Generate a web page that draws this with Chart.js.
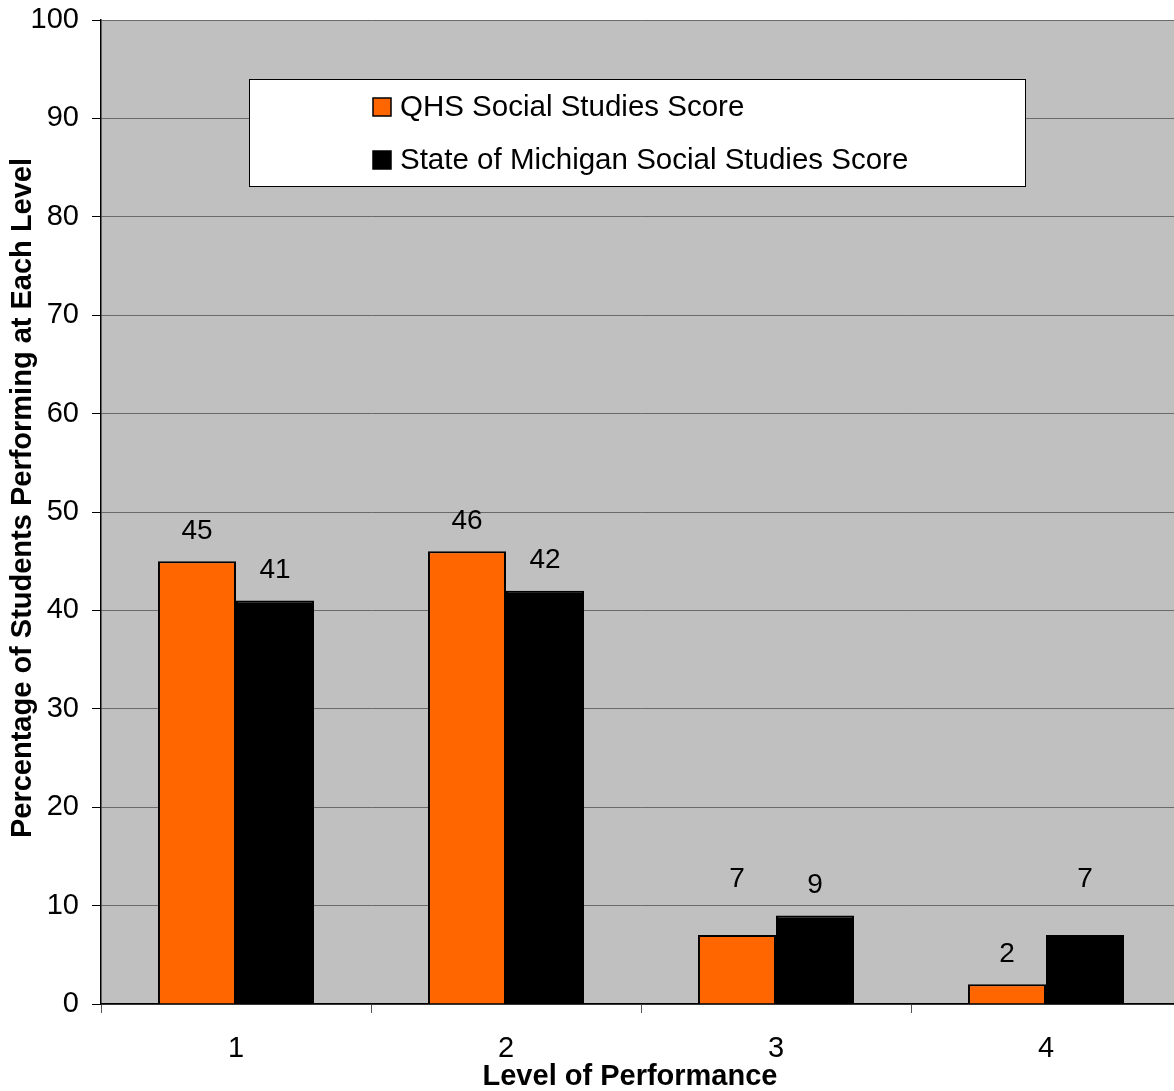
<!DOCTYPE html>
<html>
<head>
<meta charset="utf-8">
<script src="https://cdn.jsdelivr.net/npm/chart.js@4.4.0/dist/chart.umd.min.js"></script>
<style>
  html, body { margin: 0; padding: 0; background: #ffffff; }
  #wrap { width: 1174px; height: 1091px; position: relative; overflow: hidden; }
  #c { position: absolute; left: 0; top: 0; }
</style>
</head>
<body>
<div id="wrap"><canvas id="c" width="1181" height="1091"></canvas></div>
<script>
const categories = ['1', '2', '3', '4'];
const qhsScores = [45, 46, 7, 2];
const michiganScores = [41, 42, 9, 7];
const seriesNames = ['QHS Social Studies Score', 'State of Michigan Social Studies Score'];
const yTicks = [0, 10, 20, 30, 40, 50, 60, 70, 80, 90, 100];
const xTitle = 'Level of Performance';
const yTitle = 'Percentage of Students Performing at Each Level';

const FONT = "'Liberation Sans', Arial, sans-serif";

const bgPlugin = {
  id: 'plotBg',
  beforeDraw(chart) {
    const { ctx, chartArea: a } = chart;
    ctx.save();
    ctx.fillStyle = '#C0C0C0';
    ctx.fillRect(a.left, a.top, a.right - a.left, a.bottom - a.top);
    ctx.restore();
  }
};

// extra lift (px) for individual value labels that were moved up in the original
const labelLift = [[0, 0, 26, 0], [0, 0, 0, 26]];

const labelPlugin = {
  id: 'valueLabels',
  afterDatasetsDraw(chart) {
    const { ctx } = chart;
    ctx.save();
    ctx.font = '28px ' + FONT;
    ctx.fillStyle = '#000';
    ctx.textAlign = 'center';
    ctx.textBaseline = 'middle';
    chart.data.datasets.forEach((ds, i) => {
      const meta = chart.getDatasetMeta(i);
      meta.data.forEach((bar, j) => {
        ctx.fillText(String(ds.data[j]), bar.x, bar.y - 30 - labelLift[i][j]);
      });
    });
    ctx.restore();
  }
};

const titlePlugin = {
  id: 'axisTitles',
  afterDraw(chart) {
    const { ctx, chartArea: a } = chart;
    ctx.save();
    ctx.fillStyle = '#000';
    ctx.font = 'bold 29px ' + FONT;
    ctx.textAlign = 'center';
    ctx.textBaseline = 'alphabetic';
    ctx.fillText(xTitle, (a.left + a.right) / 2 - 11, a.bottom + 81);
    ctx.translate(a.left - 70, (a.top + a.bottom) / 2 - 14);
    ctx.rotate(-Math.PI / 2);
    ctx.fillText(yTitle, 0, 0);
    ctx.restore();
  }
};

const legendPlugin = {
  id: 'boxLegend',
  afterDraw(chart) {
    const { ctx, chartArea: a } = chart;
    const x0 = a.left + 148, y0 = a.top + 59, w = 776, h = 107;
    ctx.save();
    ctx.fillStyle = '#ffffff';
    ctx.fillRect(x0, y0, w, h);
    ctx.strokeStyle = '#000';
    ctx.lineWidth = 1;
    ctx.strokeRect(x0 + 0.5, y0 + 0.5, w, h);
    ctx.font = '29.5px ' + FONT;
    ctx.textBaseline = 'middle';
    ctx.textAlign = 'left';
    chart.data.datasets.forEach((ds, i) => {
      const cy = y0 + 28 + i * 53;
      ctx.fillStyle = ds.backgroundColor;
      ctx.fillRect(x0 + 124, cy - 9, 18, 18);
      ctx.strokeStyle = '#000';
      ctx.lineWidth = 1.5;
      ctx.strokeRect(x0 + 124, cy - 9, 18, 18);
      ctx.fillStyle = '#000';
      ctx.fillText(ds.label, x0 + 151, cy + 1);
    });
    ctx.restore();
  }
};

new Chart(document.getElementById('c'), {
  type: 'bar',
  data: {
    labels: categories,
    datasets: [
      { label: seriesNames[0], data: qhsScores, backgroundColor: '#FF6600', borderColor: '#000', borderWidth: 2 },
      { label: seriesNames[1], data: michiganScores, backgroundColor: '#000000', borderColor: '#000', borderWidth: 2 }
    ]
  },
  options: {
    responsive: false,
    animation: false,
    devicePixelRatio: 1,
    layout: { padding: { top: 20, right: 0, left: 0, bottom: 0 } },
    datasets: { bar: { categoryPercentage: 0.578, barPercentage: 1.0 } },
    plugins: { legend: { display: false }, tooltip: { enabled: false } },
    scales: {
      x: {
        grid: { offset: true, drawOnChartArea: false, tickLength: 9, color: '#555', tickColor: '#555' },
        border: { color: '#000', width: 1.5 },
        ticks: { color: '#000', font: { family: FONT, size: 29 }, padding: 19 },
        title: { display: false },
        afterFit(s) { s.height = 87; s.paddingLeft = 0; s.paddingRight = 0; }
      },
      y: {
        min: 0, max: 100,
        afterBuildTicks(s) { s.ticks = yTicks.map(v => ({ value: v })); },
        grid: { color: '#6a6a6a', tickLength: 9, tickColor: '#000', lineWidth: 1 },
        border: { color: '#000', width: 1.5 },
        ticks: { color: '#000', font: { family: FONT, size: 29 }, padding: 13 },
        title: { display: false },
        afterFit(s) { s.width = 101; s.paddingTop = 0; s.paddingBottom = 0; }
      }
    }
  },
  plugins: [bgPlugin, labelPlugin, legendPlugin, titlePlugin]
});
</script>
</body>
</html>
